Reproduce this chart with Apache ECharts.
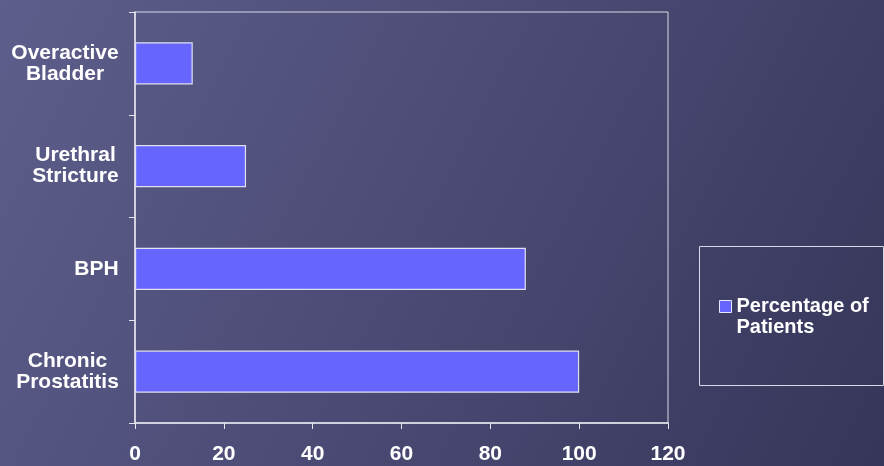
<!DOCTYPE html>
<html>
<head>
<meta charset="utf-8">
<script src="https://cdn.jsdelivr.net/npm/echarts@6/dist/echarts.min.js"></script>
<style>
html,body{margin:0;padding:0;background:#4a4a74;}
#chart{width:884px;height:466px;}
</style>
</head>
<body>
<div id="chart"></div>
<script>
// Data (bottom to top on the category axis)
const categories = ['Chronic\nProstatitis', 'BPH', 'Urethral\nStricture', 'Overactive\nBladder'];
const values = [100, 88, 25, 13];
const seriesName = 'Percentage of Patients';
const legendLines = ['Percentage of', 'Patients'];
const xMin = 0, xMax = 120, xStep = 20;

const FONT = 'Arial, "Liberation Sans", sans-serif';
const FS = 21;

// measure widest line of each category label so lines can be centred in a right-aligned block
const cv = document.createElement('canvas').getContext('2d');
cv.font = 'bold ' + FS + 'px "Liberation Sans", Arial, sans-serif';
function blockWidth(label) {
  return Math.ceil(Math.max.apply(null, label.split('\n').map(l => cv.measureText(l).width)));
}
const rich = {};
categories.forEach((c, i) => {
  rich['c' + i] = { width: blockWidth(c), align: 'center', color: '#ffffff', fontWeight: 'bold', fontSize: FS, fontFamily: FONT, lineHeight: 21 };
});

const chart = echarts.init(document.getElementById('chart'));
chart.setOption({
  animation: false,
  backgroundColor: {
    type: 'linear', x: 0, y: 0, x2: 1, y2: 1,
    colorStops: [
      { offset: 0, color: '#5e5e8c' },
      { offset: 0.5, color: '#4a4a74' },
      { offset: 1, color: '#36365a' }
    ]
  },
  grid: {
    left: 135, right: 216, top: 12, bottom: 43,
    show: true, borderColor: '#d9d9e6', borderWidth: 1, backgroundColor: 'transparent'
  },
  graphic: [{
    type: 'rect', left: 699, top: 246, z: 0,
    shape: { width: 184, height: 139 },
    style: { fill: 'transparent', stroke: '#d9d9e6', lineWidth: 1 }
  }],
  legend: {
    left: 719, top: 275, padding: 0,
    itemWidth: 12, itemHeight: 12, itemGap: 0,
    icon: 'rect',
    formatter: () => '\u00a0\n' + legendLines.join('\n'),
    textStyle: { color: '#ffffff', fontWeight: 'bold', fontSize: 20, fontFamily: FONT, lineHeight: 21 },
    itemStyle: { borderColor: '#e6e6ff', borderWidth: 1 }
  },
  xAxis: {
    type: 'value', min: xMin, max: xMax, interval: xStep,
    axisLine: { show: true, lineStyle: { color: '#e6e6ee', width: 1.5 } },
    axisTick: { show: true, length: 6, lineStyle: { color: '#e6e6ee' } },
    splitLine: { show: false },
    axisLabel: { color: '#ffffff', fontWeight: 'bold', fontSize: FS, fontFamily: FONT, margin: 21 }
  },
  yAxis: {
    type: 'category', data: categories,
    axisLine: { show: true, lineStyle: { color: '#e6e6ee', width: 1.5 } },
    axisTick: { show: true, length: 6, lineStyle: { color: '#e6e6ee' } },
    axisLabel: {
      margin: 16,
      formatter: (v, i) => v.split('\n').map(l => '{c' + i + '|' + l + '}').join('\n'),
      rich: rich
    }
  },
  series: [{
    name: seriesName, type: 'bar', data: values,
    barWidth: '41%',
    itemStyle: { color: '#6666ff', borderColor: '#e0e0f0', borderWidth: 1.2 }
  }]
});
</script>
</body>
</html>
